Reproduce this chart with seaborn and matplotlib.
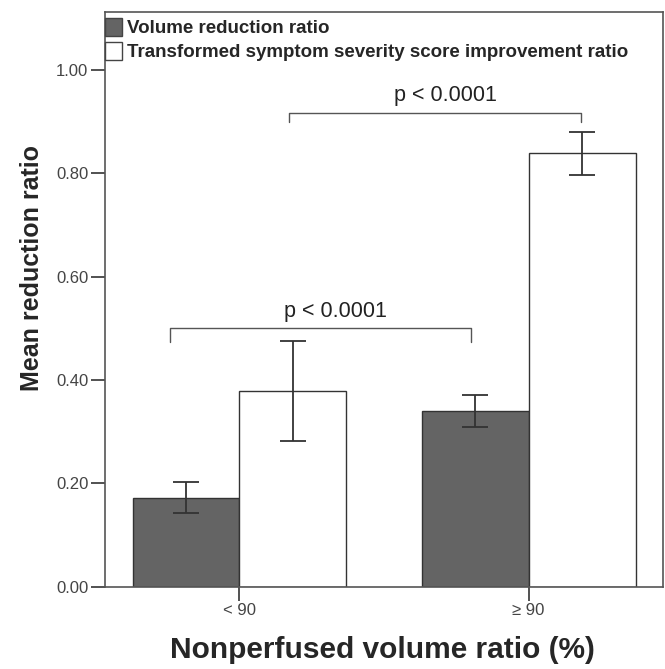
import matplotlib
matplotlib.use("Agg")
import matplotlib.pyplot as plt
import seaborn as sns
import pandas as pd

categories = ["< 90", "≥ 90"]
series = ["Volume reduction ratio", "Transformed symptom severity score improvement ratio"]
volume_mean = [0.172, 0.340]
volume_lo = [0.142, 0.310]
volume_hi = [0.203, 0.371]
symptom_mean = [0.379, 0.839]
symptom_lo = [0.282, 0.797]
symptom_hi = [0.476, 0.881]
yticks = [0.0, 0.2, 0.4, 0.6, 0.8, 1.0]
p_labels = ["p < 0.0001", "p < 0.0001"]

sns.set_style("ticks")
plt.rcParams['font.family'] = ['Liberation Sans', 'DejaVu Sans']

df = pd.DataFrame({
    "group": categories * 2,
    "series": [series[0]] * 2 + [series[1]] * 2,
    "value": volume_mean + symptom_mean,
})
lo = volume_lo + symptom_lo
hi = volume_hi + symptom_hi

fig = plt.figure(figsize=(6.65, 6.69), dpi=100)
ax = fig.add_axes([0.158, 0.123, 0.839, 0.8595])

sns.barplot(data=df, x="group", y="value", hue="series", order=categories,
            hue_order=series, palette=["#646464", "#ffffff"], errorbar=None,
            width=0.74, edgecolor="#333333", linewidth=1.0, ax=ax, legend=True)

# error bars from bar patches
bars = [p for p in ax.patches if p.get_height() > 0]
means = volume_mean + symptom_mean
for p in bars:
    cx = p.get_x() + p.get_width() / 2
    h = p.get_height()
    idx = min(range(4), key=lambda i: abs(means[i] - h))
    ax.errorbar(cx, h, yerr=[[h - lo[idx]], [hi[idx] - h]], fmt="none",
                ecolor="#333333", elinewidth=1.3, capsize=9.5, capthick=1.3, zorder=5)

ax.set_xlim(-0.465, 1.465)
ax.set_ylim(0, 1.113)
ax.set_yticks(yticks)
ax.set_yticklabels([f"{v:.2f}" for v in yticks])
ax.tick_params(axis="both", labelsize=12, colors="#333333", length=10, width=1.2,
               labelcolor="#444444", pad=2)
for s in ax.spines.values():
    s.set_visible(True)
    s.set_color("#555555")
    s.set_linewidth(1.2)

ax.set_xlabel("Nonperfused volume ratio (%)", fontsize=21.5, fontweight="bold")
ax.xaxis.set_label_coords(0.498, -0.110)
ax.xaxis.label.set_va("center")
ax.set_ylabel("Mean reduction ratio", fontsize=18, fontweight="bold")
ax.yaxis.set_label_coords(-0.131, 0.554)
ax.yaxis.label.set_va("center")

# significance brackets
bcol = "#555555"
ax.plot([-0.24, -0.24, 0.80, 0.80], [0.474, 0.50, 0.50, 0.474], color=bcol, lw=1.0)
ax.text(0.333, 0.513, p_labels[0], ha="center", va="bottom", fontsize=15.5, color="#222222")
ax.plot([0.17, 0.17, 1.18, 1.18], [0.899, 0.917, 0.917, 0.899], color=bcol, lw=1.0)
ax.text(0.711, 0.930, p_labels[1], ha="center", va="bottom", fontsize=15.5, color="#222222")

leg = ax.legend(loc="upper left", bbox_to_anchor=(-0.004, 0.993), frameon=False,
                borderaxespad=0.0, borderpad=0.1,
                handlelength=0.9, handleheight=1.1, handletextpad=0.3, labelspacing=0.25,
                prop={'weight': 'bold', 'size': 13.5})
for h in leg.legend_handles:
    h.set_edgecolor("#444444")

fig.savefig("out.png", dpi=100)
